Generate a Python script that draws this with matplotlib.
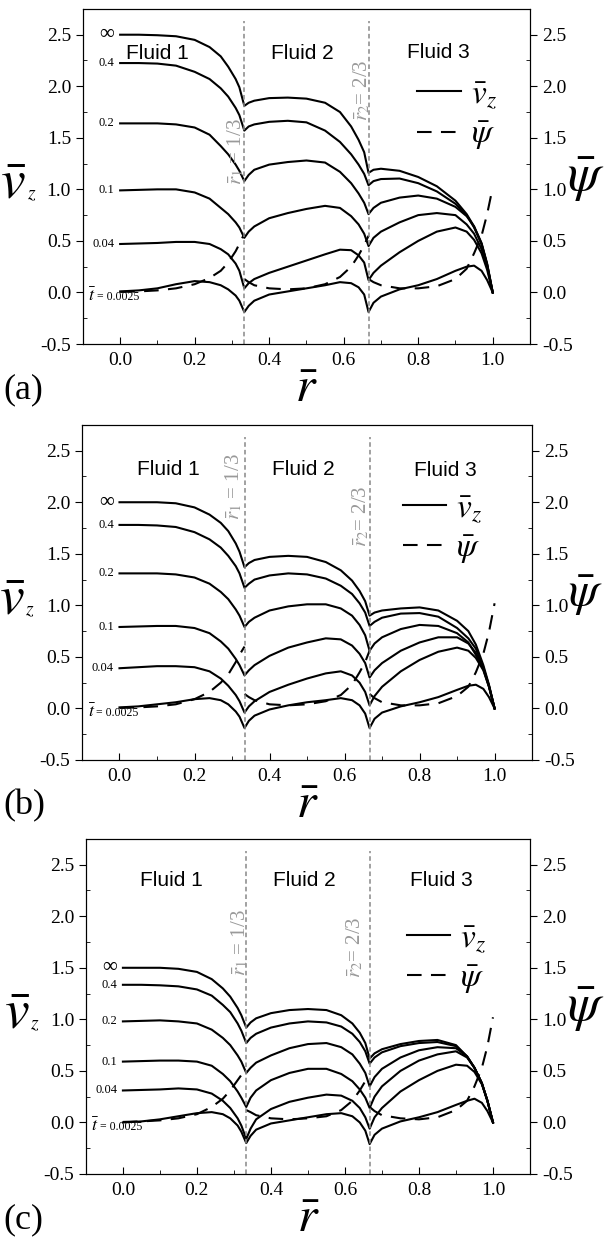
import matplotlib.pyplot as plt
import numpy as np
from matplotlib.ticker import MultipleLocator
from matplotlib.lines import Line2D

# -----------------------------------------------------------------------------------------------
# Datos (r̄ por región de fluido)
# -----------------------------------------------------------------------------------------------
R1 = [0.0, 0.05, 0.10, 0.15, 0.20, 0.24, 0.27, 0.29, 0.31, 0.32, 0.3333]
R2 = [0.3333, 0.345, 0.36, 0.40, 0.45, 0.50, 0.55, 0.59, 0.62, 0.64, 0.655, 0.6667]
R3 = [0.6667, 0.68, 0.70, 0.75, 0.80, 0.85, 0.90, 0.93, 0.95, 0.97, 0.985, 1.0]

# Panel (a): v_z para cada tiempo (fluido 1 + fluido 2 + fluido 3)
a_inf = [2.50, 2.50, 2.495, 2.485, 2.45, 2.38, 2.29, 2.19, 2.07, 1.99, 1.81,
         1.81, 1.84, 1.86, 1.885, 1.89, 1.88, 1.84, 1.75, 1.61, 1.48, 1.36, 1.16,
         1.16, 1.19, 1.20, 1.18, 1.12, 1.03, 0.89, 0.76, 0.64, 0.47, 0.27, 0.0]
a_04 = [2.225, 2.225, 2.22, 2.20, 2.14, 2.07, 1.98, 1.90, 1.79, 1.72, 1.57,
        1.57, 1.61, 1.63, 1.655, 1.665, 1.65, 1.57, 1.46, 1.34, 1.24, 1.15, 1.04,
        1.04, 1.08, 1.10, 1.105, 1.06, 0.98, 0.86, 0.75, 0.63, 0.47, 0.27, 0.0]
a_02 = [1.64, 1.64, 1.64, 1.63, 1.60, 1.53, 1.42, 1.34, 1.24, 1.18, 1.08,
        1.08, 1.14, 1.19, 1.24, 1.265, 1.28, 1.26, 1.17, 1.06, 0.96, 0.87, 0.76,
        0.76, 0.82, 0.87, 0.92, 0.94, 0.91, 0.83, 0.74, 0.64, 0.48, 0.28, 0.0]
a_01 = [0.99, 0.995, 1.0, 1.0, 0.97, 0.91, 0.82, 0.76, 0.68, 0.63, 0.53,
        0.53, 0.59, 0.64, 0.72, 0.77, 0.81, 0.84, 0.82, 0.74, 0.66, 0.57, 0.45,
        0.45, 0.53, 0.59, 0.68, 0.75, 0.77, 0.75, 0.66, 0.57, 0.42, 0.25, 0.0]
a_004 = [0.47, 0.475, 0.48, 0.49, 0.49, 0.47, 0.42, 0.37, 0.28, 0.21, 0.04,
         0.04, 0.09, 0.13, 0.19, 0.25, 0.31, 0.37, 0.415, 0.41, 0.36, 0.29, 0.12,
         0.12, 0.19, 0.26, 0.39, 0.50, 0.59, 0.63, 0.59, 0.51, 0.38, 0.22, 0.0]
a_00025 = [0.01, 0.02, 0.04, 0.08, 0.11, 0.10, 0.07, 0.03, -0.03, -0.08, -0.19,
           -0.19, -0.13, -0.08, -0.02, 0.01, 0.04, 0.07, 0.10, 0.09, 0.05, -0.02, -0.19,
           -0.19, -0.10, -0.04, 0.03, 0.07, 0.13, 0.21, 0.25, 0.26, 0.21, 0.12, 0.0]
a_psi = [0.005, 0.01, 0.02, 0.04, 0.08, 0.14, 0.21, 0.29, 0.40, 0.47, 0.57,
         0.13, 0.10, 0.07, 0.04, 0.03, 0.04, 0.08, 0.15, 0.25, 0.36, 0.46, 0.55,
         0.13, 0.10, 0.07, 0.04, 0.04, 0.06, 0.13, 0.23, 0.38, 0.55, 0.76, 1.02]

# Panel (b)
b_inf = [2.0, 2.0, 2.0, 1.99, 1.95, 1.88, 1.80, 1.72, 1.60, 1.52, 1.37,
         1.37, 1.41, 1.44, 1.47, 1.48, 1.47, 1.42, 1.34, 1.24, 1.14, 1.04, 0.90,
         0.90, 0.93, 0.95, 0.97, 0.98, 0.95, 0.85, 0.75, 0.62, 0.42, 0.23, 0.0]
b_04 = [1.78, 1.78, 1.775, 1.76, 1.71, 1.64, 1.56, 1.48, 1.38, 1.31, 1.17,
        1.17, 1.21, 1.25, 1.29, 1.31, 1.30, 1.26, 1.19, 1.11, 1.02, 0.93, 0.80,
        0.80, 0.84, 0.88, 0.92, 0.925, 0.89, 0.78, 0.68, 0.58, 0.40, 0.22, 0.0]
b_02 = [1.31, 1.31, 1.31, 1.30, 1.27, 1.21, 1.13, 1.06, 0.96, 0.90, 0.79,
        0.79, 0.84, 0.88, 0.95, 0.99, 1.01, 1.01, 0.97, 0.90, 0.81, 0.71, 0.56,
        0.56, 0.63, 0.69, 0.77, 0.81, 0.80, 0.73, 0.64, 0.52, 0.38, 0.21, 0.0]
b_01 = [0.79, 0.795, 0.80, 0.80, 0.78, 0.73, 0.65, 0.58, 0.48, 0.42, 0.32,
        0.32, 0.37, 0.42, 0.51, 0.59, 0.64, 0.68, 0.67, 0.61, 0.53, 0.44, 0.30,
        0.30, 0.37, 0.44, 0.56, 0.64, 0.69, 0.69, 0.63, 0.54, 0.39, 0.22, 0.0]
b_004 = [0.39, 0.40, 0.41, 0.41, 0.40, 0.36, 0.29, 0.22, 0.13, 0.07, -0.04,
         -0.04, 0.02, 0.07, 0.16, 0.23, 0.29, 0.34, 0.36, 0.32, 0.25, 0.16, 0.03,
         0.03, 0.12, 0.21, 0.36, 0.47, 0.55, 0.59, 0.56, 0.49, 0.37, 0.21, 0.0]
b_00025 = [0.01, 0.02, 0.04, 0.06, 0.09, 0.10, 0.08, 0.04, -0.03, -0.08, -0.19,
           -0.19, -0.12, -0.07, -0.01, 0.03, 0.06, 0.08, 0.10, 0.08, 0.03, -0.05, -0.19,
           -0.19, -0.10, -0.04, 0.02, 0.06, 0.11, 0.18, 0.22, 0.23, 0.19, 0.11, 0.0]
b_psi = [0.005, 0.01, 0.02, 0.04, 0.09, 0.16, 0.25, 0.33, 0.45, 0.52, 0.60,
         0.14, 0.11, 0.08, 0.04, 0.03, 0.04, 0.07, 0.13, 0.23, 0.35, 0.45, 0.56,
         0.14, 0.10, 0.06, 0.03, 0.03, 0.05, 0.12, 0.21, 0.35, 0.53, 0.74, 1.02]

# Panel (c)
c_inf = [1.50, 1.50, 1.50, 1.49, 1.46, 1.39, 1.30, 1.22, 1.11, 1.04, 0.92,
         0.92, 0.97, 1.01, 1.06, 1.09, 1.10, 1.09, 1.04, 0.96, 0.87, 0.77, 0.62,
         0.62, 0.67, 0.71, 0.76, 0.79, 0.80, 0.75, 0.64, 0.53, 0.38, 0.21, 0.0]
c_04 = [1.335, 1.335, 1.33, 1.32, 1.29, 1.23, 1.14, 1.07, 0.96, 0.89, 0.77,
        0.77, 0.82, 0.86, 0.92, 0.96, 0.98, 0.97, 0.93, 0.86, 0.78, 0.69, 0.57,
        0.57, 0.63, 0.68, 0.74, 0.77, 0.78, 0.74, 0.64, 0.53, 0.38, 0.21, 0.0]
c_02 = [0.98, 0.985, 0.99, 0.98, 0.96, 0.90, 0.82, 0.75, 0.65, 0.59, 0.48,
        0.48, 0.53, 0.58, 0.65, 0.72, 0.76, 0.77, 0.73, 0.66, 0.57, 0.48, 0.35,
        0.35, 0.44, 0.52, 0.63, 0.70, 0.73, 0.72, 0.64, 0.53, 0.38, 0.21, 0.0]
c_01 = [0.59, 0.595, 0.60, 0.60, 0.59, 0.55, 0.47, 0.40, 0.30, 0.24, 0.15,
        0.15, 0.24, 0.31, 0.41, 0.48, 0.52, 0.52, 0.47, 0.40, 0.32, 0.24, 0.14,
        0.14, 0.25, 0.35, 0.50, 0.60, 0.66, 0.69, 0.63, 0.53, 0.38, 0.21, 0.0]
c_004 = [0.31, 0.315, 0.32, 0.33, 0.32, 0.28, 0.21, 0.14, 0.04, -0.03, -0.16,
         -0.16, -0.06, 0.03, 0.13, 0.20, 0.24, 0.27, 0.26, 0.21, 0.14, 0.05, -0.06,
         -0.06, 0.05, 0.14, 0.30, 0.41, 0.50, 0.56, 0.55, 0.49, 0.37, 0.21, 0.0]
c_00025 = [0.0, 0.01, 0.03, 0.06, 0.09, 0.10, 0.08, 0.04, -0.03, -0.09, -0.20,
           -0.20, -0.13, -0.07, -0.01, 0.02, 0.05, 0.08, 0.09, 0.06, 0.0, -0.08, -0.21,
           -0.21, -0.12, -0.06, 0.01, 0.05, 0.10, 0.17, 0.21, 0.23, 0.19, 0.11, 0.0]
c_psi = [0.005, 0.01, 0.02, 0.04, 0.08, 0.15, 0.23, 0.31, 0.41, 0.46, 0.52,
         0.12, 0.10, 0.07, 0.04, 0.03, 0.04, 0.06, 0.12, 0.21, 0.31, 0.40, 0.47,
         0.15, 0.11, 0.07, 0.04, 0.03, 0.05, 0.12, 0.21, 0.35, 0.53, 0.74, 1.02]

# Etiquetas de tiempo (excepto la curva t = 0.0025)
t_labels = ["\u221e", "0.4", "0.2", "0.1", "0.04"]
fluid_labels = ["Fluid 1", "Fluid 2", "Fluid 3"]

# -----------------------------------------------------------------------------------------------
# Configuración general
# -----------------------------------------------------------------------------------------------
plt.rcParams['font.family'] = ['Liberation Serif', 'DejaVu Serif']
plt.rcParams['mathtext.fontset'] = 'stix'

fig = plt.figure(figsize=(6.05, 12.41), dpi=100)

R = R1 + R2 + R3
n1, n2 = len(R1), len(R1) + len(R2)
yt = np.arange(-0.5, 2.51, 0.5)


def panel(pos, curves, psi, letter, fluid_pos, r1_pos, r2_pos, leg_anchor, psi_x, psi_fs):
    ax = fig.add_axes(pos)
    # Curvas de velocidad
    for c in curves:
        ax.plot(R, c, color='black', lw=1.5)
    # Potencial (discontinuo en las interfaces)
    for seg_r, seg_p in [(R1, psi[:n1]), (R2, psi[n1:n2]), (R3, psi[n2:])]:
        ax.plot(seg_r, seg_p, color='black', lw=1.5, dashes=(7, 4.5))
    # Interfaces
    for xi in [1 / 3, 2 / 3]:
        ax.axvline(xi, ymax=0.965, color='#888888', lw=1.1, dashes=(3, 2))
    ax.text(r1_pos[0], r1_pos[1], r'$\bar{r}_1$ = 1/3', rotation=90, color='#999999',
            fontsize=15, ha='center', va='center')
    ax.text(r2_pos[0], r2_pos[1], r'$\bar{r}_2$= 2/3', rotation=90, color='#999999',
            fontsize=15, ha='center', va='center')
    # Nombres de los fluidos
    for (fx, fy), name in zip(fluid_pos, fluid_labels):
        ax.text(fx, fy, name, fontsize=15, family='Liberation Sans', ha='center', va='center')
    # Etiquetas de tiempo
    for c, lab in zip(curves[:5], t_labels):
        fs = 15 if lab == "\u221e" else 9
        ax.text(-0.015, c[0], lab, fontsize=fs, ha='right', va='center')
    ax.text(-0.085, -0.035, r'$\bar{t}$', fontsize=13, ha='left', va='center')
    ax.text(-0.062, -0.045, '= 0.0025', fontsize=8.5, ha='left', va='center')

    # Ejes
    ax.set_xlim(-0.1, 1.1)
    ax.set_ylim(-0.5, 2.75)
    ax.set_xticks(np.arange(0, 1.01, 0.2))
    ax.set_xticklabels(["%.1f" % v for v in np.arange(0, 1.01, 0.2)])
    ax.xaxis.set_minor_locator(MultipleLocator(0.1))
    ax.set_yticks(yt)
    ax.set_yticklabels(["%.1f" % v for v in yt])
    ax.yaxis.set_minor_locator(MultipleLocator(0.25))
    ax.tick_params(axis='x', which='major', direction='in', length=5, labelsize=14, pad=6)
    ax.tick_params(axis='x', which='minor', direction='in', length=3)
    ax.tick_params(axis='y', which='major', direction='out', length=5, labelsize=14)
    ax.tick_params(axis='y', which='minor', direction='in', length=3)
    ax.set_ylim(-0.5, 2.75)
    ax.set_xlabel(r'$\bar{r}$', fontsize=36, labelpad=-2)
    # Etiqueta vertical izquierda (v con subíndice pequeño)
    ax.text(-0.155, 0.475, r'$\bar{v}$', transform=ax.transAxes, fontsize=40,
            ha='center', va='center')
    ax.text(-0.115, 0.445, r'$z$', transform=ax.transAxes, fontsize=14,
            ha='center', va='center')

    ax2 = ax.twinx()
    ax2.set_ylim(-0.5, 2.75)
    ax2.set_yticks(yt)
    ax2.set_yticklabels(["%.1f" % v for v in yt])
    ax2.yaxis.set_minor_locator(MultipleLocator(0.25))
    ax2.tick_params(axis='y', which='major', direction='out', length=5, labelsize=14)
    ax2.tick_params(axis='y', which='minor', direction='in', length=3)
    ax2.set_ylabel(r'$\bar{\psi}$', fontsize=psi_fs, rotation=0, va='center')
    ax2.yaxis.set_label_coords(psi_x, 0.49)

    # Leyenda
    h1 = Line2D([], [], color='black', lw=1.5)
    h2 = Line2D([], [], color='black', lw=1.5, dashes=(7, 4.5))
    ax.legend([h1, h2], [r'$\bar{v}_z$', r'$\bar{\psi}$'], loc='upper left',
              bbox_to_anchor=leg_anchor, frameon=False, fontsize=24, handlelength=1.3,
              handletextpad=0.3, labelspacing=0.25, borderpad=0, borderaxespad=0)

    fig.text(0.005, pos[1] - 0.037, letter, fontsize=26, ha='left', va='center')
    return ax


panel([0.137, 0.7228, 0.739, 0.270], [a_inf, a_04, a_02, a_01, a_004, a_00025], a_psi, "(a)",
      [(0.10, 2.32), (0.49, 2.32), (0.855, 2.33)], (0.31, 1.37), (0.649, 1.96), (0.748, 0.789),
      1.125, 38)
panel([0.1355, 0.3876, 0.744, 0.270], [b_inf, b_04, b_02, b_01, b_004, b_00025], b_psi, "(b)",
      [(0.13, 2.32), (0.49, 2.32), (0.87, 2.31)], (0.305, 2.15), (0.645, 1.86), (0.713, 0.797),
      1.118, 35)
panel([0.142, 0.054, 0.734, 0.270], [c_inf, c_04, c_02, c_01, c_004, c_00025], c_psi, "(c)",
      [(0.13, 2.35), (0.49, 2.35), (0.86, 2.35)], (0.317, 1.74), (0.627, 1.70), (0.723, 0.748),
      1.125, 38)

plt.savefig("out.png", dpi=100)
